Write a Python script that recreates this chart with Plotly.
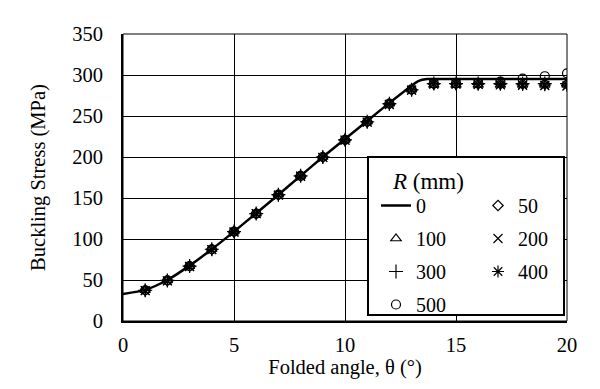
import plotly.graph_objects as go

# ---- data ----
theta_line = [0, 1, 2, 3, 4, 5, 6, 7, 8, 9, 10, 11, 12, 13, 13.3, 13.7, 15, 17.5, 20]
stress_r0 = [33, 38, 50, 67.5, 87.5, 109, 131.5, 154, 177, 200, 222, 244, 266, 287, 292.5, 295, 295, 295, 295]

theta_pts = list(range(1, 21))
stress_r50 = [37.5, 49.5, 67, 87.5, 109, 131, 154, 177, 200, 221, 243, 265, 282, 289, 289, 289, 289, 289, 289, 289]
stress_r100 = [37.5, 49.5, 67, 87.5, 109, 131, 154, 177, 200, 221, 243, 265, 282, 288, 288, 288, 288, 288, 288, 288]
stress_r200 = [37, 49, 66.5, 87, 108.5, 131, 153.5, 176.5, 199.5, 220.5, 242.5, 264, 281.5, 289, 289, 288.5, 288, 287.5, 287, 286.5]
stress_r300 = [37.5, 49.5, 67, 87.5, 109, 131, 154, 177, 200, 221, 243, 265, 282, 289.5, 289.5, 289.5, 289.5, 289.5, 289.5, 289.5]
stress_r400 = [37, 49, 66.5, 87, 108.5, 131, 153.5, 176.5, 199.5, 220.5, 242.5, 264, 281.5, 289, 289, 288.5, 288.5, 288, 287.5, 287]
stress_r500 = [37.5, 49.5, 67, 87.5, 109, 131, 154, 177, 200, 221, 243, 265, 282.5, 290, 290, 290.5, 292, 295.5, 298.5, 302]

FONT = "Liberation Serif"
FS = 20.5
LFS = 20

fig = go.Figure()

fig.add_trace(go.Scatter(x=theta_line, y=stress_r0, mode="lines", name="0",
                         line=dict(color="black", width=2.5, shape="spline", smoothing=0.6),
                         legend="legend", legendgroup="g0"))

series = [
    ("50", stress_r50, "diamond-open", 8, "legend2"),
    ("100", stress_r100, "triangle-up-open", 9, "legend"),
    ("200", stress_r200, "x-thin-open", 9, "legend2"),
    ("300", stress_r300, "cross-thin-open", 10, "legend"),
    ("400", stress_r400, "asterisk-open", 10, "legend2"),
    ("500", stress_r500, "circle-open", 9, "legend"),
]
for name, vals, sym, size, leg in series:
    fig.add_trace(go.Scatter(x=theta_pts, y=vals, mode="markers", name=name,
                             marker=dict(symbol=sym, size=size, color="black",
                                         line=dict(color="black", width=1.2)),
                             legend=leg, legendgroup="g" + name))

px_l, px_r, px_t, px_b = 123, 567, 34, 321
W, H = 600, 389
pw, ph = px_r - px_l, px_b - px_t

def paper_x(px):
    return (px - px_l) / pw

def paper_y(py):
    return (px_b - py) / ph

leg_common = dict(font=dict(family=FONT, size=LFS, color="black"),
                  bgcolor="rgba(0,0,0,0)", borderwidth=0,
                  yanchor="top", xanchor="left", tracegroupgap=4,
                  itemsizing="trace")

tickfont = dict(family=FONT, size=FS, color="black")

fig.update_layout(
    width=W, height=H,
    margin=dict(l=px_l, r=W - px_r, t=px_t, b=H - px_b),
    paper_bgcolor="white", plot_bgcolor="white",
    font=dict(family=FONT, size=FS, color="black"),
    showlegend=True,
    legend=dict(x=paper_x(376), y=paper_y(186), **leg_common),
    legend2=dict(x=paper_x(478), y=paper_y(186), **leg_common),
    xaxis=dict(range=[0, 20], dtick=5, tick0=0, showgrid=True, gridcolor="black", gridwidth=1,
               showline=True, linecolor="black", linewidth=2, ticks="", zeroline=False,
               ticklabelstandoff=4, tickfont=tickfont,
               title=dict(text="Folded angle, θ (°)", font=dict(family=FONT, size=FS), standoff=4)),
    yaxis=dict(range=[0, 350], dtick=50, tick0=0, showgrid=True, gridcolor="black", gridwidth=1,
               showline=True, linecolor="black", linewidth=2, ticks="", zeroline=False,
               ticklabelstandoff=14, tickfont=tickfont,
               title=dict(text="Buckling Stress (MPa)", font=dict(family=FONT, size=FS), standoff=21)),
    shapes=[
        dict(type="rect", xref="paper", yref="paper", x0=0, x1=1, y0=0, y1=1,
             line=dict(color="black", width=1), fillcolor="rgba(0,0,0,0)", layer="above"),
        dict(type="rect", xref="paper", yref="paper",
             x0=paper_x(368), x1=paper_x(564), y0=paper_y(315), y1=paper_y(157),
             line=dict(color="black", width=2), fillcolor="white", layer="above"),
    ],
    annotations=[
        dict(text="<i>R</i> (mm)", xref="paper", yref="paper",
             x=paper_x(466), y=paper_y(181), showarrow=False,
             font=dict(family=FONT, size=23, color="black")),
    ],
)

fig.write_html("out.html")
